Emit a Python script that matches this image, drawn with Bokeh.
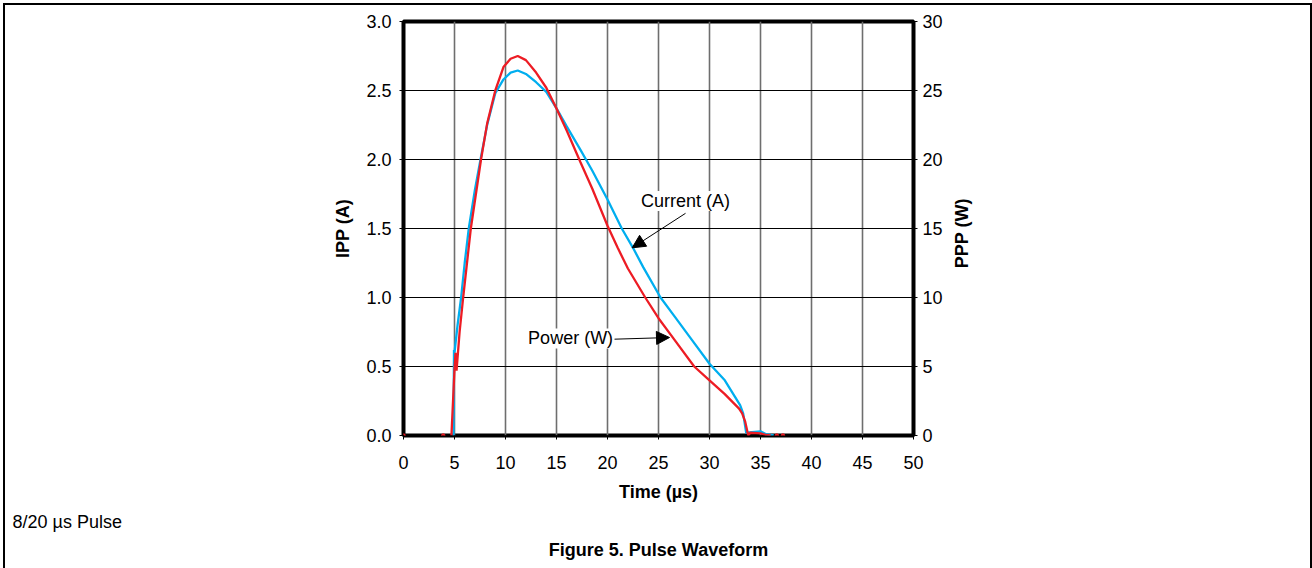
import math
from bokeh.plotting import figure
from bokeh.layouts import row
from bokeh.models import (Range1d, LinearAxis, FixedTicker, NumeralTickFormatter,
                          Label, Arrow, NormalHead, Title)
from bokeh.embed import file_html
from bokeh.resources import INLINE

# ---- data ----
time_current = [4.9, 4.95, 5.0, 5.3, 5.65, 6.0, 6.4, 7.0, 7.55, 8.2, 9.0, 9.8, 10.5,
                11.2, 12.0, 13.0, 14.0, 15.0, 16.0, 17.35, 18.5, 20.0, 21.4, 22.5,
                23.5, 25.2, 26.5, 28.0, 30.0, 31.5, 33.0, 33.3, 33.6, 35.0, 35.5, 36.3]
current_a = [0.0, 0.62, 0.60, 0.80, 1.0, 1.25, 1.5, 1.78, 2.0, 2.25, 2.48, 2.58, 2.63,
             2.645, 2.62, 2.56, 2.49, 2.37, 2.24, 2.07, 1.92, 1.71, 1.5, 1.36,
             1.22, 1.0, 0.87, 0.72, 0.52, 0.40, 0.22, 0.16, 0.02, 0.03, 0.01, 0.0]

time_power = [4.7, 5.0, 5.1, 5.2, 5.5, 5.85, 6.6, 7.6, 8.2, 9.0, 9.8, 10.5, 11.2, 12.0,
              13.0, 14.0, 15.0, 16.0, 17.35, 18.5, 20.0, 21.0, 22.0, 23.7, 25.0, 26.5,
              28.5, 30.0, 31.5, 32.9, 33.2, 33.5, 33.8, 34.0, 35.0, 35.5, 36.0]
power_w = [0.0, 4.8, 6.0, 4.7, 7.5, 10.0, 15.0, 20.0, 22.6, 25.0, 26.7, 27.3, 27.5, 27.2,
           26.3, 25.2, 23.7, 22.1, 19.8, 17.9, 15.2, 13.6, 12.1, 10.0, 8.5, 7.0,
           5.0, 4.0, 3.0, 1.95, 1.6, 1.0, 0.0, 0.2, 0.15, 0.05, 0.0]

power_dots_t = [0.0, 3.9, 36.6, 37.2]
power_dots_w = [0.0, 0.0, 0.0, 0.0]

time_ticks = [0, 5, 10, 15, 20, 25, 30, 35, 40, 45, 50]
current_ticks = [0.0, 0.5, 1.0, 1.5, 2.0, 2.5, 3.0]
power_ticks = [0, 5, 10, 15, 20, 25, 30]

FONT = "Liberation Sans"
BLUE = "#00AEEF"
RED = "#ED1C24"

p = figure(width=940, height=563, output_backend="svg", toolbar_location=None,
           x_range=Range1d(0, 50), y_range=Range1d(0, 3),
           min_border_left=398, min_border_right=32, min_border_top=16,
           min_border_bottom=133)
p.extra_y_ranges = {"power": Range1d(0, 30)}

p.background_fill_color = "white"
p.border_fill_color = "white"
p.outline_line_color = "black"
p.outline_line_width = 4

# grid
p.xgrid.ticker = FixedTicker(ticks=time_ticks)
p.ygrid.ticker = FixedTicker(ticks=current_ticks)
p.xgrid.grid_line_color = "#6e6e6e"
p.xgrid.grid_line_width = 1.6
p.ygrid.grid_line_color = "black"
p.ygrid.grid_line_width = 1.1

# axes
right = LinearAxis(y_range_name="power", ticker=FixedTicker(ticks=power_ticks))
p.add_layout(right, "right")

p.xaxis.ticker = FixedTicker(ticks=time_ticks)
p.yaxis[0].ticker = FixedTicker(ticks=current_ticks)
p.yaxis[0].formatter = NumeralTickFormatter(format="0.0")
right.formatter = NumeralTickFormatter(format="0")
p.xaxis.axis_label = "Time (\u00b5s)"
p.yaxis[0].axis_label = "IPP (A)"

for ax in [p.xaxis[0], p.yaxis[0], right]:
    ax.axis_line_color = None
    ax.major_tick_line_color = "black"
    ax.major_tick_line_width = 1
    ax.major_tick_out = 4
    ax.major_tick_in = 0
    ax.minor_tick_line_color = None
    ax.major_label_text_font = FONT
    ax.major_label_text_font_size = "18px"
    ax.major_label_text_color = "black"
    ax.axis_label_text_font = FONT
    ax.axis_label_text_font_size = "18px"
    ax.axis_label_text_font_style = "bold"
    ax.axis_label_text_color = "black"

p.xaxis[0].major_label_standoff = 16
p.xaxis[0].axis_label_standoff = 10
p.yaxis[0].major_label_standoff = 8
p.yaxis[0].axis_label_standoff = 10
right.major_label_standoff = 5

# series
p.line(time_current, current_a, line_color=BLUE, line_width=2.3)
p.line(time_power, power_w, y_range_name="power", line_color=RED, line_width=2.3)
p.scatter(power_dots_t, power_dots_w, y_range_name="power", size=3.5,
          fill_color=RED, line_color=RED)

# annotations
p.add_layout(Label(x=27.65, y=1.70, text="Current (A)", text_align="center",
                   text_baseline="middle", text_font=FONT, text_font_size="18px",
                   text_color="black", background_fill_color="white"))
p.add_layout(Arrow(x_start=27.65, y_start=1.61, x_end=22.42, y_end=1.36,
                   line_color="black", line_width=1,
                   end=NormalHead(size=13, fill_color="black", line_color="black")))
p.add_layout(Label(x=20.55, y=0.703, text="Power (W)", text_align="right",
                   text_baseline="middle", text_font=FONT, text_font_size="18px",
                   text_color="black", background_fill_color="white"))
p.add_layout(Arrow(x_start=20.69, y_start=0.698, x_end=26.08, y_end=0.71,
                   line_color="black", line_width=1,
                   end=NormalHead(size=13, fill_color="black", line_color="black")))

# page texts below the plot
t1 = Title(text="8/20 \u00b5s Pulse", align="left", offset=-391, standoff=10,
           text_font=FONT, text_font_size="18px", text_font_style="normal",
           text_color="black")
t2 = Title(text="Figure 5. Pulse Waveform", align="center", standoff=2,
           text_font=FONT, text_font_size="18px", text_font_style="bold",
           text_color="black")
p.add_layout(t1, "below")
p.add_layout(t2, "below")

# right-hand strip carrying the secondary axis title (reads bottom to top)
side = figure(width=365, height=563, output_backend="svg", toolbar_location=None,
              x_range=Range1d(0, 365), y_range=Range1d(0, 563),
              min_border=0, x_axis_type=None, y_axis_type=None)
side.xgrid.visible = False
side.ygrid.visible = False
side.outline_line_color = None
side.background_fill_color = "white"
side.border_fill_color = "white"
side.add_layout(Label(x=16.5, y=275, text="PPP (W)", angle=math.pi / 2,
                      text_align="center", text_baseline="middle", text_font=FONT,
                      text_font_size="18px", text_font_style="bold",
                      text_color="black"))

layout = row(p, side, spacing=0)
layout.margin = (3, 0, 0, 3)
layout.styles = {"border-top": "2px solid black", "border-left": "2px solid black",
                 "border-right": "2px solid black"}

open("out.html", "w").write(file_html(layout, INLINE))
